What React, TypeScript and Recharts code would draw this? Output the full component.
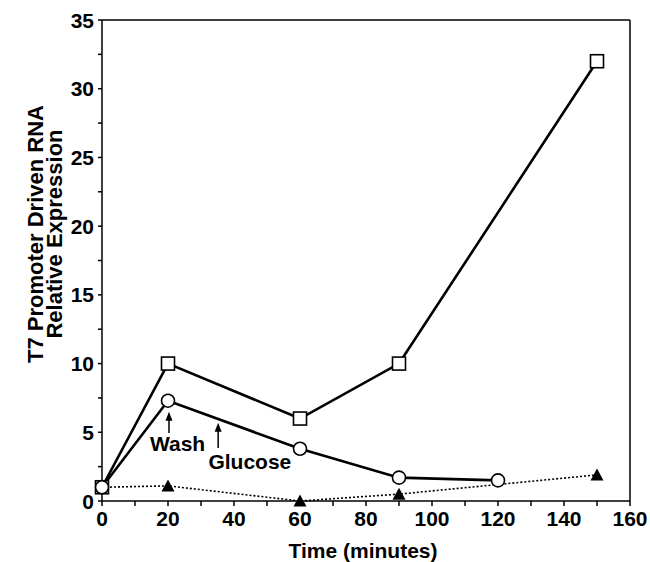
import React from 'react';
import { LineChart, Line, XAxis, YAxis, ReferenceLine, ReferenceDot, Label } from 'recharts';

// Data
const squareTimes = [0, 20, 60, 90, 150];
const squareValues = [1, 10, 6, 10, 32];
const circleTimes = [0, 20, 60, 90, 120];
const circleValues = [1, 7.3, 3.8, 1.7, 1.5];
const triangleTimes = [0, 20, 60, 90, 150];
const triangleValues = [1, 1.1, 0, 0.5, 1.9];

const xTicks = [0, 10, 20, 30, 40, 50, 60, 70, 80, 90, 100, 110, 120, 130, 140, 150, 160];
const xLabelled = [0, 20, 40, 60, 80, 100, 120, 140, 160];
const yTicks = [0, 2.5, 5, 7.5, 10, 12.5, 15, 17.5, 20, 22.5, 25, 27.5, 30, 32.5, 35];
const yLabelled = [0, 5, 10, 15, 20, 25, 30, 35];

const xTitle = 'Time (minutes)';
const yTitleLines = ['T7 Promoter Driven RNA', 'Relative Expression'];

const annotationTexts = ['Wash', 'Glucose'];
const annotationArrowTimes = [20.3, 35.2];
const annotationArrowFrom = [4.95, 3.86];
const annotationArrowTo = [6.5, 5.7];
const annotationLabelTimes = [22.9, 44.8];
const annotationLabelValues = [4.22, 2.91];

const squares = squareTimes.map((t, i) => ({ t, v: squareValues[i] }));
const circles = circleTimes.map((t, i) => ({ t, v: circleValues[i] }));
const triangles = triangleTimes.map((t, i) => ({ t, v: triangleValues[i] }));

const FONT = '"Liberation Sans", Arial, Helvetica, sans-serif';

const SquareDot = (props: any) => {
  const { cx, cy, index } = props;
  if (cx == null || cy == null) return <g key={index} />;
  return <rect key={index} x={cx - 6.5} y={cy - 6.5} width={13} height={13} fill="#fff" stroke="#000" strokeWidth={1.6} />;
};
const CircleDot = (props: any) => {
  const { cx, cy, index } = props;
  if (cx == null || cy == null) return <g key={index} />;
  return <circle key={index} cx={cx} cy={cy} r={6.5} fill="#fff" stroke="#000" strokeWidth={1.6} />;
};
const TriangleDot = (props: any) => {
  const { cx, cy, index } = props;
  if (cx == null || cy == null || index === 0) return <g key={index} />;
  return <polygon key={index} points={`${cx},${cy - 6.5} ${cx - 6.5},${cy + 5.5} ${cx + 6.5},${cy + 5.5}`} fill="#000" />;
};

const XTick = (props: any) => {
  const { x, y, payload } = props;
  if (!xLabelled.includes(payload.value)) return <g />;
  return (
    <text x={x} y={y} textAnchor="middle" dominantBaseline="hanging" fontFamily={FONT} fontWeight="bold" fontSize={21} fill="#000">
      {payload.value}
    </text>
  );
};
const YTick = (props: any) => {
  const { x, y, payload } = props;
  if (!yLabelled.includes(payload.value)) return <g />;
  return (
    <text x={x} y={y} textAnchor="end" dominantBaseline="central" fontFamily={FONT} fontWeight="bold" fontSize={21} fill="#000">
      {payload.value}
    </text>
  );
};

const YTitle = () => (
  <g>
    {yTitleLines.map((line, i) => {
      const x = 35 + i * 19;
      const y = 234;
      return (
        <text key={i} x={x} y={y} transform={`rotate(-90, ${x}, ${y})`} textAnchor="middle" dominantBaseline="central" fontFamily={FONT} fontWeight="bold" fontSize={22} fill="#000">
          {line}
        </text>
      );
    })}
  </g>
);
const XTitle = () => (
  <text x={363} y={550} textAnchor="middle" dominantBaseline="central" fontFamily={FONT} fontWeight="bold" fontSize={21} fill="#000">
    {xTitle}
  </text>
);

const Arrow = (props: any) => {
  const { x1, y1, x2, y2 } = props;
  return (
    <g>
      <line x1={x1} y1={y1} x2={x2} y2={y2 + 6} stroke="#000" strokeWidth={1.5} />
      <polygon points={`${x2},${y2} ${x2 - 3.5},${y2 + 9} ${x2 + 3.5},${y2 + 9}`} fill="#000" />
    </g>
  );
};

export default function App() {
  return (
    <div style={{ position: 'fixed', left: 0, top: 0, background: '#fff' }}>
      <LineChart width={650} height={562} margin={{ top: 20, right: 20, bottom: 0, left: 0 }}>
        <XAxis
          dataKey="t"
          type="number"
          domain={[0, 160]}
          ticks={xTicks}
          interval={0}
          tick={<XTick />}
          tickSize={5}
          tickMargin={5}
          height={61}
          stroke="#000"
          strokeWidth={1.5}
          allowDuplicatedCategory={false}
        >
          <Label content={<XTitle />} />
        </XAxis>
        <YAxis
          type="number"
          domain={[0, 35]}
          ticks={yTicks}
          interval={0}
          tick={<YTick />}
          tickSize={4}
          tickMargin={4}
          width={102}
          stroke="#000"
          strokeWidth={1.5}
        >
          <Label content={<YTitle />} />
        </YAxis>
        <ReferenceLine y={35} stroke="#000" strokeWidth={1.5} />
        <ReferenceLine x={160} stroke="#000" strokeWidth={1.5} />
        <Line
          data={triangles}
          dataKey="v"
          stroke="#000"
          strokeWidth={1.6}
          strokeDasharray="2 2"
          dot={<TriangleDot />}
          isAnimationActive={false}
        />
        <Line data={squares} dataKey="v" stroke="#000" strokeWidth={2.6} dot={<SquareDot />} isAnimationActive={false} />
        <Line data={circles} dataKey="v" stroke="#000" strokeWidth={2.6} dot={<CircleDot />} isAnimationActive={false} />
        {annotationTexts.map((txt, i) => (
          <ReferenceLine
            key={`arrow-${txt}`}
            segment={[
              { x: annotationArrowTimes[i], y: annotationArrowFrom[i] },
              { x: annotationArrowTimes[i], y: annotationArrowTo[i] },
            ]}
            shape={(p: any) => <Arrow {...p} />}
          />
        ))}
        {annotationTexts.map((txt, i) => (
          <ReferenceDot
            key={`label-${txt}`}
            x={annotationLabelTimes[i]}
            y={annotationLabelValues[i]}
            r={0}
            shape={(p: any) => (
              <text x={p.cx} y={p.cy} textAnchor="middle" dominantBaseline="central" fontFamily={FONT} fontWeight="bold" fontSize={21} fill="#000">
                {txt}
              </text>
            )}
          />
        ))}
      </LineChart>
    </div>
  );
}
